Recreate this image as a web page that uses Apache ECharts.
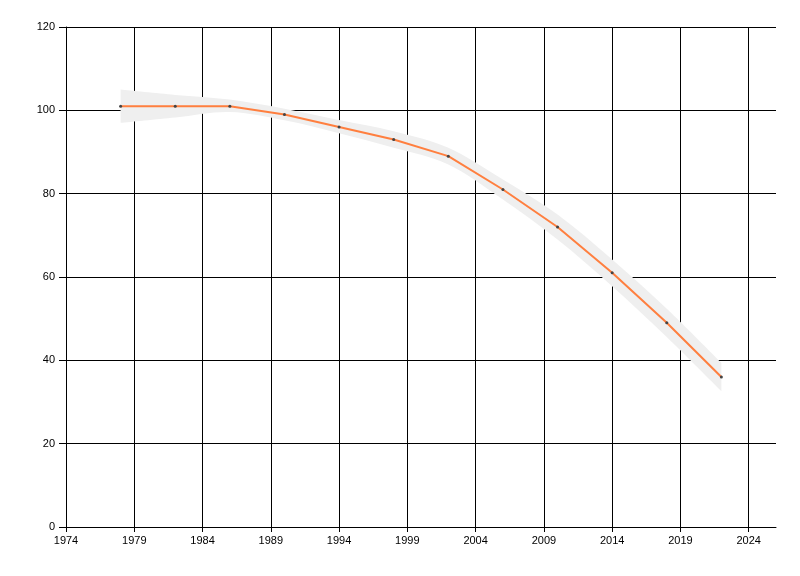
<!DOCTYPE html>
<html>
<head>
<meta charset="utf-8">
<script src="https://cdn.jsdelivr.net/npm/echarts@6/dist/echarts.min.js"></script>
<style>html,body{margin:0;padding:0;background:#fff}#c{width:800px;height:576px}</style>
</head>
<body>
<div id="c"></div>
<script>
const years = [1978, 1982, 1986, 1990, 1994, 1998, 2002, 2006, 2010, 2014, 2018, 2022];
const values = [101, 101, 101, 99, 96, 93, 89, 81, 72, 61, 49, 36];
const upper = [105, 103.7, 102.6, 100.4, 97.7, 95, 91, 83.4, 75, 64.2, 52.4, 39.4];
const lower = [97, 98.3, 99.6, 97.6, 94.5, 91, 87, 78.6, 69, 57.8, 45.6, 32.6];
const xMin = 1974, xMax = 2026, xStep = 5;
const yMin = 0, yMax = 120, yStep = 20;

function curvePath(pts, t) {
  // Catmull-Rom spline through pts, as cubic bezier segments (no initial M)
  let d = '';
  for (let i = 0; i < pts.length - 1; i++) {
    const p0 = pts[Math.max(0, i - 1)], p1 = pts[i], p2 = pts[i + 1], p3 = pts[Math.min(pts.length - 1, i + 2)];
    const c1 = [p1[0] + (p2[0] - p0[0]) * t, p1[1] + (p2[1] - p0[1]) * t];
    const c2 = [p2[0] - (p3[0] - p1[0]) * t, p2[1] - (p3[1] - p1[1]) * t];
    d += ' C' + c1[0] + ',' + c1[1] + ' ' + c2[0] + ',' + c2[1] + ' ' + p2[0] + ',' + p2[1];
  }
  return d;
}

const chart = echarts.init(document.getElementById('c'), null, {renderer: 'canvas'});
const font = {fontFamily: 'Liberation Sans', fontSize: 11, color: '#000'};
chart.setOption({
  animation: false,
  backgroundColor: '#fff',
  grid: {left: 66, right: 24, top: 27, bottom: 49, containLabel: false},
  xAxis: {
    type: 'value', min: xMin, max: xMax, interval: xStep,
    axisLine: {show: true, onZero: false, lineStyle: {color: '#000', width: 1}},
    axisTick: {show: true, length: 5, lineStyle: {color: '#000'}},
    axisLabel: Object.assign({margin: 8, showMaxLabel: false, formatter: v => String(v)}, font),
    splitLine: {show: true, showMaxLine: false, lineStyle: {color: '#000', width: 1}}
  },
  yAxis: {
    type: 'value', min: yMin, max: yMax, interval: yStep,
    axisLine: {show: true, lineStyle: {color: '#000', width: 1}},
    axisTick: {show: true, length: 7, lineStyle: {color: '#000'}},
    axisLabel: Object.assign({margin: 11}, font),
    splitLine: {show: true, lineStyle: {color: '#000', width: 1}}
  },
  series: [
    {
      type: 'custom', silent: true, z: 3,
      data: years.map((y, i) => [y, lower[i], upper[i]]),
      encode: {x: 0, y: [1, 2]},
      renderItem: function (params, api) {
        if (params.dataIndex !== 0) return null;
        const top = years.map((y, i) => api.coord([y, upper[i]]));
        const bot = years.map((y, i) => api.coord([y, lower[i]])).reverse();
        const d = 'M' + top[0][0] + ',' + top[0][1] + curvePath(top, 1 / 6) +
          ' L' + bot[0][0] + ',' + bot[0][1] + curvePath(bot, 1 / 6) + ' Z';
        return {
          type: 'path',
          shape: {pathData: d},
          style: {fill: '#EFEFEF', stroke: null}
        };
      }
    },
    {
      type: 'line', symbol: 'circle', symbolSize: 3, showSymbol: true,
      data: years.map((y, i) => [y, values[i]]),
      lineStyle: {color: '#FF7F3F', width: 2},
      itemStyle: {color: '#444', borderWidth: 0},
      z: 5
    }
  ]
});
</script>
</body>
</html>
